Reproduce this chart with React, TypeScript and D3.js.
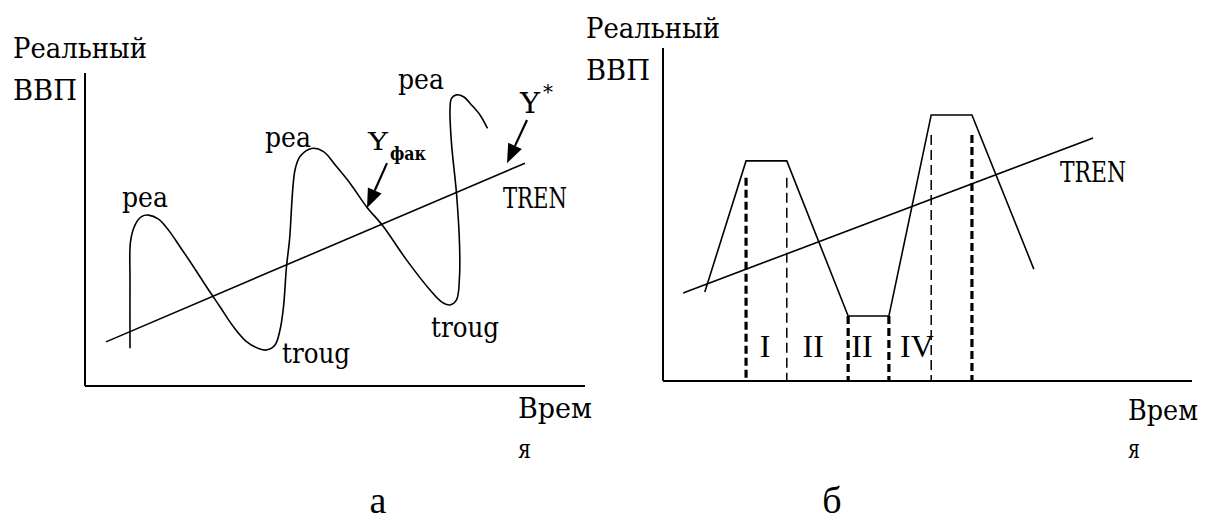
import * as d3 from "d3";

// panel а — actual GDP wave (time 0..100, real GDP 0..100)
const waveTime = [9, 9, 9.1, 10, 11.3, 12.7, 14.7, 16.7, 19, 21.7, 24.3, 27, 29.7, 32.3, 34.7, 36.3, 38, 39, 39.7, 40.3, 40.9, 42, 43, 45.3, 47.7, 50.3, 53, 56.3, 59.7, 64.3, 69, 71.3, 73, 74.3, 74.9, 74.9, 74.3, 73.3, 73, 73.3, 74.3, 75.7, 77.3, 79, 80.5];
const waveGdp = [12.1, 33.9, 46.1, 51.4, 54.1, 54.6, 53.3, 49.8, 44.5, 38.1, 31.7, 25.3, 18.9, 14.2, 12, 11.5, 13.1, 17.9, 25.3, 38.1, 46.6, 69, 73.3, 75.9, 74.9, 70.1, 64.8, 57.3, 50.9, 40.3, 30.7, 26.9, 25.9, 27.5, 34.9, 45.6, 61.5, 77.5, 88.2, 91.9, 93, 92.4, 89.8, 86.6, 82.3];
const trendATime = [4.2, 88];
const trendAGdp = [14.1, 71.2];

// panel б — stylised cycle with phases
const phaseTime = [7.9, 15.7, 23.4, 35, 42.7, 50.7, 58.4, 70.1];
const phaseGdp = [26.7, 66.1, 66.1, 19.5, 19.5, 79.9, 79.9, 33.6];
const trendBTime = [3.8, 81.3];
const trendBGdp = [26.4, 73];
const dividerTime = [15.7, 23.4, 35, 42.7, 50.7, 58.4];
const dividerTop = [61, 61, 19.5, 19.5, 73.9, 73.9];
const dividerBold = [true, false, true, true, false, true];
const phaseLabels = ["I", "II", "II", "IV"];
const phaseLabelTime = [19.3, 28.4, 37.6, 48];

// text labels on panel а: [text, time, gdp, width]
const labelsA: [string, number, number, number][] = [
  ["pea", 7.4, 57.2, 46],
  ["pea", 36, 76.4, 46],
  ["pea", 62.6, 94.9, 46],
  ["troug", 39.4, 7.3, 68],
  ["troug", 69.2, 15.7, 68],
  ["TREN", 83.6, 56.9, 64],
];

const W = 1206;
const H = 523;
const slab = "'DejaVu Serif', serif";
const times = "'Liberation Serif', 'Times New Roman', serif";

const xA = d3.scaleLinear().domain([0, 100]).range([85, 585]);
const yA = d3.scaleLinear().domain([0, 100]).range([386, 73]);
const xB = d3.scaleLinear().domain([0, 100]).range([663, 1192]);
const yB = d3.scaleLinear().domain([0, 100]).range([381, 48]);

function Arrow({ x1, y1, x2, y2 }: { x1: number; y1: number; x2: number; y2: number }) {
  const a = Math.atan2(y2 - y1, x2 - x1);
  const len = 19, hw = 7.5;
  const bx = x2 - len * Math.cos(a), by = y2 - len * Math.sin(a);
  const pts = [
    [x2, y2],
    [bx + hw * Math.sin(a), by - hw * Math.cos(a)],
    [bx - hw * Math.sin(a), by + hw * Math.cos(a)],
  ];
  return (
    <g>
      <line x1={x1} y1={y1} x2={bx} y2={by} stroke="#000" strokeWidth={2.2} />
      <polygon points={pts.map((p) => p.join(",")).join(" ")} fill="#000" />
    </g>
  );
}

export default function App() {
  const wave = d3
    .line<number>()
    .x((_, i) => xA(waveTime[i]))
    .y((d) => yA(d))
    .curve(d3.curveCatmullRom.alpha(0.5))(waveGdp);
  const phase = d3
    .line<number>()
    .x((_, i) => xB(phaseTime[i]))
    .y((d) => yB(d))(phaseGdp);

  return (
    <svg width={W} height={H} style={{ position: "absolute", left: 0, top: 0, background: "#fff" }}>
      {/* ---------- panel а ---------- */}
      <line x1={xA(0)} y1={yA(100)} x2={xA(0)} y2={yA(0)} stroke="#000" strokeWidth={2} />
      <line x1={xA(0)} y1={yA(0)} x2={xA(100)} y2={yA(0)} stroke="#000" strokeWidth={2} />
      <path d={wave ?? ""} fill="none" stroke="#000" strokeWidth={1.6} />
      <line
        x1={xA(trendATime[0])} y1={yA(trendAGdp[0])}
        x2={xA(trendATime[1])} y2={yA(trendAGdp[1])}
        stroke="#000" strokeWidth={1.6}
      />
      <g fontFamily={slab} fontSize={28}>
        {labelsA.map(([t, x, y, w], i) => (
          <text key={i} x={xA(x)} y={yA(y)} textLength={w} lengthAdjust="spacingAndGlyphs">{t}</text>
        ))}
        <text x={xA(87)} y={yA(87.2)} fontSize={28} textLength={20} lengthAdjust="spacingAndGlyphs">Y</text>
        <text x={xA(87) + 23} y={yA(87.2) - 14} fontSize={20}>*</text>
        <text x={xA(56.6)} y={yA(75.4)} fontSize={24} textLength={20} lengthAdjust="spacingAndGlyphs">Y</text>
        <text x={xA(56.6) + 22} y={yA(75.4) + 10} fontSize={18} fontWeight="bold" textLength={36} lengthAdjust="spacingAndGlyphs">фак</text>
      </g>
      <Arrow x1={xA(60.4)} y1={yA(71.2)} x2={xA(56.4)} y2={yA(56.9)} />
      <Arrow x1={xA(88.4)} y1={yA(85)} x2={xA(84.4)} y2={yA(71.2)} />
      <g fontFamily={slab} fontSize={28}>
        <text x={13} y={58} textLength={134} lengthAdjust="spacingAndGlyphs">Реальный</text>
        <text x={13} y={100} textLength={64} lengthAdjust="spacingAndGlyphs">ВВП</text>
        <text x={518} y={418} textLength={74} lengthAdjust="spacingAndGlyphs">Врем</text>
        <text x={518} y={458} fontSize={26} textLength={13} lengthAdjust="spacingAndGlyphs">я</text>
      </g>
      <text x={378} y={513} fontFamily={times} fontSize={38} textAnchor="middle">а</text>

      {/* ---------- panel б ---------- */}
      <line x1={xB(0)} y1={yB(100)} x2={xB(0)} y2={yB(0)} stroke="#000" strokeWidth={2} />
      <line x1={xB(0)} y1={yB(0)} x2={xB(100)} y2={yB(0)} stroke="#000" strokeWidth={2} />
      {dividerTime.map((t, i) => (
        <line
          key={i}
          x1={xB(t)} y1={yB(dividerTop[i])} x2={xB(t)} y2={yB(0)}
          stroke="#000"
          strokeWidth={dividerBold[i] ? 3.2 : 1.5}
          strokeDasharray={dividerBold[i] ? "8 4" : "10 5"}
        />
      ))}
      <path d={phase ?? ""} fill="none" stroke="#000" strokeWidth={1.6} />
      <line
        x1={xB(trendBTime[0])} y1={yB(trendBGdp[0])}
        x2={xB(trendBTime[1])} y2={yB(trendBGdp[1])}
        stroke="#000" strokeWidth={1.6}
      />
      <g fontFamily={times} fontSize={32} textAnchor="middle">
        {phaseLabels.map((l, i) => (
          <text key={i} x={xB(phaseLabelTime[i])} y={yB(7.2)}>{l}</text>
        ))}
      </g>
      <g fontFamily={slab} fontSize={28}>
        <text x={1060} y={182} textLength={66} lengthAdjust="spacingAndGlyphs">TREN</text>
        <text x={586} y={38} textLength={134} lengthAdjust="spacingAndGlyphs">Реальный</text>
        <text x={586} y={80} textLength={64} lengthAdjust="spacingAndGlyphs">ВВП</text>
        <text x={1128} y={420} textLength={70} lengthAdjust="spacingAndGlyphs">Врем</text>
        <text x={1128} y={458} fontSize={26} textLength={12} lengthAdjust="spacingAndGlyphs">я</text>
      </g>
      <text x={832} y={513} fontFamily={times} fontSize={38} textAnchor="middle">б</text>
    </svg>
  );
}
